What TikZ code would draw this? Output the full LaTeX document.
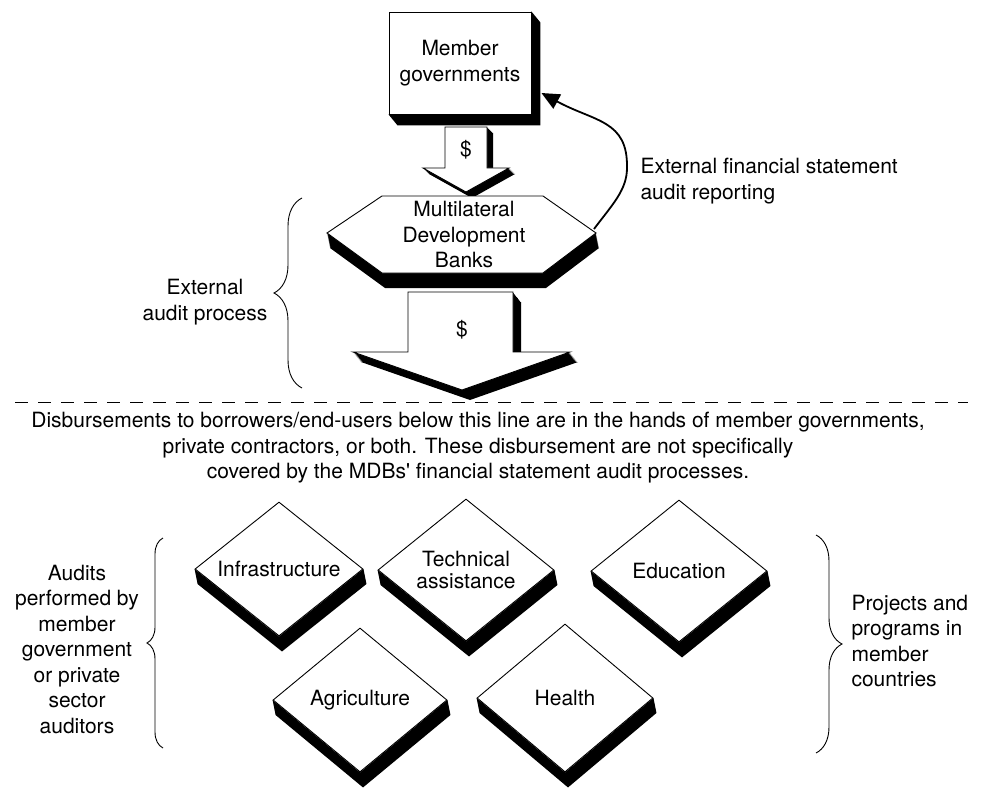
\documentclass[tikz,border=0pt]{standalone}
\usepackage{fontspec}
\setmainfont{TeX Gyre Heros}
\usetikzlibrary{shapes.geometric}
\usetikzlibrary{arrows.meta}
\usetikzlibrary{decorations.pathreplacing}
\usetikzlibrary{backgrounds}
\tikzset{box/.style = {draw, fill=white, line width=0.9pt, minimum width=142, minimum height=102, inner sep=0, align=center}}
\tikzset{gem/.style = {diamond, draw, fill=white, line width=0.9pt, aspect=1.25, minimum width=176, minimum height=142, inner sep=0, align=center}}
\tikzset{curly/.style = {decorate, decoration={brace, amplitude=#1}, line width=0.9pt}}
\tikzset{edge/.style = {draw, fill=white, line width=0.9pt}}

\begin{document}
\begin{tikzpicture}[x=1pt, y=1pt, font=\fontsize{21}{25.5}\selectfont]
  \useasboundingbox (0,0) rectangle (983,-789);
  \def\smallarrow{(445,-127) -- (487,-127) -- (487,-168) -- (509,-168) -- (466,-192) -- (423,-168) -- (445,-168) -- cycle}
  \def\bigarrow{(408,-292) -- (513,-292) -- (513,-352) -- (570,-352) -- (462,-390) -- (353,-352) -- (408,-352) -- cycle}
  \def\hexagon{(327,-233) -- (382,-196) -- (543,-196) -- (596,-233) -- (543,-273) -- (382,-273) -- cycle}

  \foreach \k in {1,...,6} \fill[shift={(\k,-\k)}] \smallarrow;
  \foreach \k in {1,...,10} \fill[shift={(0.8*\k,-\k)}] \bigarrow;
  \foreach \k in {1,...,15} \fill[shift={(0.2*\k,-\k)}] \hexagon;
  \path[edge] \smallarrow;
  \path[edge] \bigarrow;
  \path[edge] \hexagon;

  \node[box] (member) at (460,-63) {Member\\governments};
  \node (dol1) at (466,-150) {\$};
  \node[align=center] (mdb) at (464,-235) {Multilateral\\Development\\Banks};
  \node (dol2) at (462,-330) {\$};

  \coordinate (mdbr) at (594,-229);
  \draw[line width=1.8pt, -{Triangle[length=18pt,width=16pt]}] (mdbr)
    .. controls (612,-205) and (627,-190) .. (627,-168)
    .. controls (628,-120) and (595,-122) .. ([shift={(10,-30)}]member.east);
  \node[anchor=west, align=left] (report) at (637,-181) {External financial statement\\audit reporting};

  \draw[curly=28] (302,-388) -- (302,-198);
  \node[align=center] (ext) at (205,-302) {External\\audit process};

  \draw[line width=0.9pt, dash pattern=on 13pt off 10pt] (15,-402) -- (968,-402);
  \node[align=center] (note) at (478,-448) {Disbursements to borrowers/end-users below this line are in the hands of member governments,\\private contractors, or both. These disbursement are not specifically\\covered by the MDBs\textquotesingle{} financial statement audit processes.};

  \node[gem, minimum width=168, minimum height=134] (infra) at (279,-569) {Infrastructure};
  \node[gem, font=\fontsize{21}{22}\selectfont] (tech) at (466,-570) {Technical\\assistance};
  \node[gem] (educ) at (679,-571) {Education};
  \node[gem, minimum width=174, minimum height=144] (agri) at (360,-700) {Agriculture};
  \node[gem, minimum height=148] (health) at (565,-698) {Health};

  \begin{scope}[on background layer]
    \fill (member.north east) -- ([shift={(9,-11)}]member.north east) -- ([shift={(9,-11)}]member.south east)
      -- ([shift={(9,-11)}]member.south west) -- (member.south west) -- cycle;
    \foreach \n in {infra,tech,educ,agri,health}
      \fill (\n.west) -- ([shift={(3,-15)}]\n.west) -- ([shift={(3,-15)}]\n.south) -- ([shift={(3,-15)}]\n.east)
        -- (\n.east) -- (\n.south) -- cycle;
  \end{scope}

  \draw[curly=16] (163,-748) -- (163,-538);
  \node[align=center] (audits) at (77,-649) {Audits\\performed by\\member\\government\\or private\\sector\\auditors};
  \draw[curly=26] (816,-535) -- (816,-753);
  \node[anchor=west, align=left] (proj) at (848,-641) {Projects and\\programs in\\member\\countries};
\end{tikzpicture}
\end{document}
